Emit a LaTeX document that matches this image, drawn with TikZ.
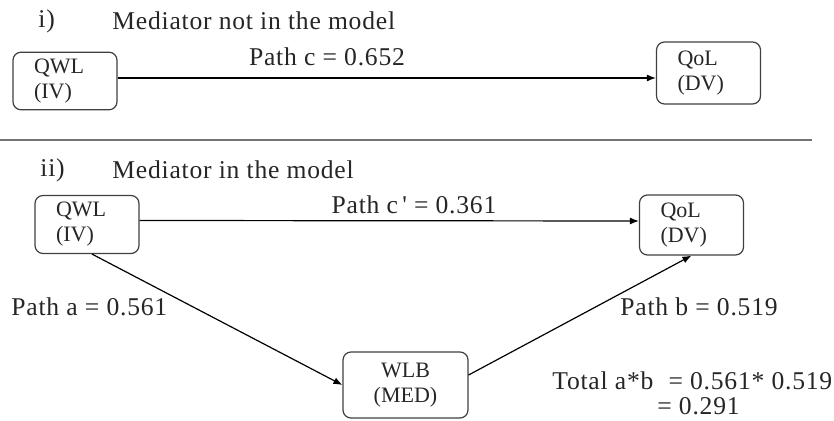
\documentclass[tikz,border=0pt]{standalone}
\usepackage{fontspec}
\setmainfont{Liberation Serif}
\newfontfamily\labelfont[LetterSpace=3]{Liberation Serif}
\usetikzlibrary{arrows.meta,positioning}

\begin{document}
\begin{tikzpicture}[x=0.5pt,y=-0.5pt,>={Latex[length=4.5pt,width=3.5pt]},
    every node/.style={text=black!85},
    label/.style={font=\labelfont\fontsize{12.8}{14}\selectfont,inner sep=0pt}]
  \tikzstyle{varB}=[draw=black!75,line width=0.6pt,rounded corners=4pt,
    font=\fontsize{11}{12.5}\selectfont,align=left,text width=31pt,
    inner xsep=10.5pt,minimum height=29pt]
  \useasboundingbox (0,0) rectangle (834,421);

  % Model i
  \node[label,anchor=west] (no1) at (38,21) {i)};
  \node[label,anchor=west] (title1) at (112,21) {Mediator not in the model};
  \node[varB,minimum height=28pt] (iv1) at (65,81) {QWL\\(IV)};
  \node[varB,minimum height=31pt] (dv1) at (708.5,73) {QoL\\(DV)};
  \draw[->,line width=0.6pt] (iv1.east |- 0,78) -- (dv1.west |- 0,78);
  \node[label] (pc1) at (327,57) {Path c = 0.652};

  % separator
  \coordinate (ruleL) at (0,140);
  \coordinate (ruleR) at (812,140);
  \draw[black!55,line width=0.8pt] (ruleL) -- (ruleR);

  % Model ii
  \node[label,anchor=west] (no2) at (40,170) {ii)};
  \node[label,anchor=west] (title2) at (112,170) {Mediator in the model};
  \node[varB] (iv2) at (87,224.5) {QWL\\(IV)};
  \node[varB,minimum height=30pt] (dv2) at (691.5,225) {QoL\\(DV)};
  \node[varB,align=center,text width=41.5pt,minimum height=33pt] (med) at (405.5,385) {WLB\\(MED)};

  % Paths
  \draw[->,line width=0.6pt] ([yshift=2pt]iv2.east) -- ([yshift=2pt]dv2.west);
  \draw[->,line width=0.6pt] ([xshift=2.5pt]iv2.south) -- (med.west);
  \draw[->,line width=0.6pt] ([yshift=5pt]med.east) -- (dv2.south);

  % Labels
  \node[label] (pc2) at (414,205) {Path c\,' = 0.361};
  \node[label,anchor=west] (pa) at (11,307) {Path a = 0.561};
  \node[label,anchor=west] (pb) at (620,307) {Path b = 0.519};
  \node[label,anchor=west] (tot) at (552,381) {Total a*b\hspace{4pt} = 0.561* 0.519};
  \node[label,anchor=west] (tot2) at (657,406) {= 0.291};
\end{tikzpicture}
\end{document}
